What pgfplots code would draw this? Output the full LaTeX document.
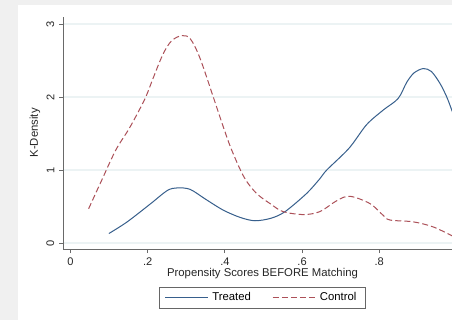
\documentclass[border=0pt]{standalone}
\usepackage{fontspec}
\setmainfont{Liberation Sans}
\usepackage{pgfplots}
\pgfplotsset{compat=1.18}
\definecolor{bgout}{RGB}{240,240,240}
\definecolor{gridc}{RGB}{236,243,244}
\definecolor{treat}{RGB}{55,95,140}
\definecolor{ctrl}{RGB}{172,80,88}
\definecolor{axc}{RGB}{105,105,105}
\begin{document}
\begin{tikzpicture}[x=0.75pt,y=-0.75pt]
\fill[bgout] (0,0) rectangle (452,320);
\fill[white] (18,5) rectangle (460,320);
\begin{axis}[
  at={(47.25pt,-186.75pt)}, anchor=south west,
  scale only axis, width=303.75pt, height=174.2pt,
  xmin=-0.0194, xmax=1.03, ymin=-0.082, ymax=3.10,
  axis x line=bottom, axis y line=left,
  axis line style={-, draw=axc, line width=0.6pt},
  tick align=outside, major tick length=3pt,
  tick style={axc, line width=0.6pt},
  xtick={0,0.2,0.4,0.6,0.8}, xticklabels={0,.2,.4,.6,.8},
  ytick={0,1,2,3}, yticklabels={0,1,2,3},
  tick label style={font=\fontsize{8.3}{9}\selectfont, text=black!85},
  yticklabel style={rotate=90, anchor=south},
  ymajorgrids, grid style={gridc, line width=0.8pt},
  xlabel={Propensity Scores BEFORE Matching},
  ylabel={K-Density},
  label style={font=\fontsize{8.5}{9}\selectfont, text=black!85},
  xlabel style={at={(axis description cs:0.4926,-0.1076)}, anchor=center},
  ylabel style={at={(axis description cs:-0.0691,0.5)}, anchor=center, rotate=0},
  legend columns=2,
  legend style={at={(axis description cs:0.4926,-0.1636)}, anchor=north,
    draw=black!60, line width=0.5pt, font=\fontsize{8.5}{9.5}\selectfont,
    inner xsep=4pt, inner ysep=2pt,
    nodes={inner xsep=3pt},
    /tikz/every even column/.append style={column sep=13pt}},
  legend image code/.code={\draw[#1] (0pt,0pt) -- (32pt,0pt);},
]
\addplot[treat, line width=0.75pt, smooth, tension=0.5] coordinates {
(0.0995,0.13) (0.147,0.29) (0.208,0.54) (0.251,0.72) (0.277,0.755) (0.31,0.735)
(0.35,0.60) (0.396,0.45) (0.44,0.35) (0.478,0.305) (0.52,0.34) (0.556,0.43)
(0.612,0.68) (0.646,0.88) (0.664,1.0) (0.722,1.30) (0.767,1.62) (0.81,1.82)
(0.849,1.98) (0.871,2.20) (0.89,2.33) (0.914,2.39) (0.935,2.35) (0.957,2.19)
(0.975,2.00) (0.988,1.82) (1.0,1.65)
};
\addlegendentry{Treated}
\addplot[ctrl, line width=0.75pt, smooth, tension=0.55, dash pattern=on 4.5pt off 2.3pt] coordinates {
(0.047,0.47) (0.08,0.85) (0.117,1.27) (0.15,1.55) (0.172,1.76) (0.195,2.0)
(0.215,2.27) (0.24,2.59) (0.262,2.77) (0.288,2.84) (0.31,2.80) (0.335,2.54)
(0.37,2.00) (0.396,1.59) (0.418,1.27) (0.45,0.90) (0.482,0.68) (0.52,0.53)
(0.551,0.43) (0.603,0.39) (0.646,0.43) (0.69,0.58) (0.724,0.64) (0.776,0.54)
(0.81,0.38) (0.828,0.315) (0.888,0.29) (0.94,0.22) (0.99,0.096) (1.0,0.08)
};
\addlegendentry{Control}
\end{axis}
\pgfresetboundingbox
\path (0,0) rectangle (452,320);
\end{tikzpicture}
\end{document}
